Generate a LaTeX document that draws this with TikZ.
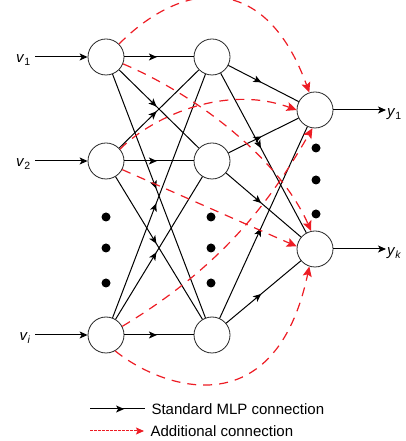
\documentclass[tikz,border=0pt]{standalone}
\usepackage{fontspec}
\setmainfont{Liberation Sans}
\usetikzlibrary{arrows.meta,decorations.markings}
\definecolor{addred}{RGB}{237,28,36}
\tikzset{
	neuron/.style={circle,draw=black!85,line width=0.8pt,minimum size=36pt,inner sep=0pt},
	feed/.style={line width=1pt,-{Stealth[length=8pt,width=7pt,inset=2pt]}},
	mlp/.style={line width=1pt,postaction={decorate},
		decoration={markings,mark=at position #1 with {\arrow{Stealth[length=8pt,width=7pt,inset=2pt]}}}},
	mlp/.default=0.47,
	extra/.style={addred,line width=1.2pt,dash pattern=on 9pt off 7pt,
		-{Stealth[length=10pt,width=9pt,inset=2pt]}},
}
\newcommand*{\vin}[1]{\textit{v}\textsubscript{#1}}
\newcommand*{\yout}[1]{\textit{y}\textsubscript{#1}}

\begin{document}
\begin{tikzpicture}[x=1pt,y=1pt,font=\fontsize{15pt}{18pt}\selectfont]
	\useasboundingbox (0,0) rectangle (405,441);
	% input, hidden and output neurons
	\node[neuron] (v1) at (106,384) {};
	\node[neuron] (v2) at (106,280) {};
	\node[neuron] (vi) at (106,106) {};
	\node[neuron] (h1) at (212,384) {};
	\node[neuron] (h2) at (212,280) {};
	\node[neuron] (h3) at (212,106) {};
	\node[neuron] (y1) at (315,331) {};
	\node[neuron] (yk) at (315,192) {};

	\node[anchor=base east,inner sep=1pt] (lv1) at (32,378) {\vin{1}};
	\node[anchor=base east,inner sep=1pt] (lv2) at (32,274) {\vin{2}};
	\node[anchor=base east,inner sep=1pt] (lvi) at (32,100) {\vin{\textit{i}}};
	\node[anchor=base west,inner sep=1pt] (ly1) at (386,324) {\yout{1}};
	\node[anchor=base west,inner sep=1pt] (lyk) at (386,185) {\yout{\textit{k}}};

	\foreach \n in {v1,v2,vi}
		\draw[feed,shorten <=3pt] (l\n.east |- \n) -- (\n);
	\foreach \n in {y1,yk}
		\draw[feed] (\n) -- (l\n.west |- \n);

	\foreach \a in {v1,v2,vi}
		\foreach \b in {h1,h2,h3}
			\draw[mlp] (\a) -- (\b);
	\foreach \a in {h1,h2,h3}
		\foreach \b in {y1,yk}
			\draw[mlp] (\a) -- (\b);

	% skip connections
	\draw[extra] (v1.45) .. controls +(45:90) and +(110:130) .. (y1.108);
	\draw[extra] (v2.40) .. controls +(46:40) and +(160:80) .. (y1.180);
	\draw[extra] (vi.28) .. controls +(31:120) and +(240:80) .. (y1.262);
	\draw[extra] (v1.-22) .. controls +(-23:80) and +(114:80) .. (yk.102);
	\draw[extra] (v2.-28) -- (yk.172);
	\draw[extra] (vi.-60) .. controls +(-39:60) and +(258:165) .. (yk.252);

	\foreach \y in {224,193,158} {
		\fill (106,\y) circle (4.5);
		\fill (211,\y) circle (4.5);
	}
	\foreach \y in {293,261,227}
		\fill (316,\y) circle (4.5);

	% legend
	\coordinate (lga) at (90,32);
	\coordinate (lgb) at (145,32);
	\coordinate (lgc) at (90,10);
	\coordinate (lgd) at (144,10);
	\draw[mlp=0.62] (lga) -- (lgb);
	\draw[addred,line width=1pt,dash pattern=on 2.5pt off 1.5pt,-{Stealth[length=8pt,width=7pt,inset=1.5pt]}] (lgc) -- (lgd);
	\node[anchor=west] (lgtxta) at (148,32) {Standard MLP connection};
	\node[anchor=west] (lgtxtb) at (147,10) {Additional connection};
\end{tikzpicture}
\end{document}
